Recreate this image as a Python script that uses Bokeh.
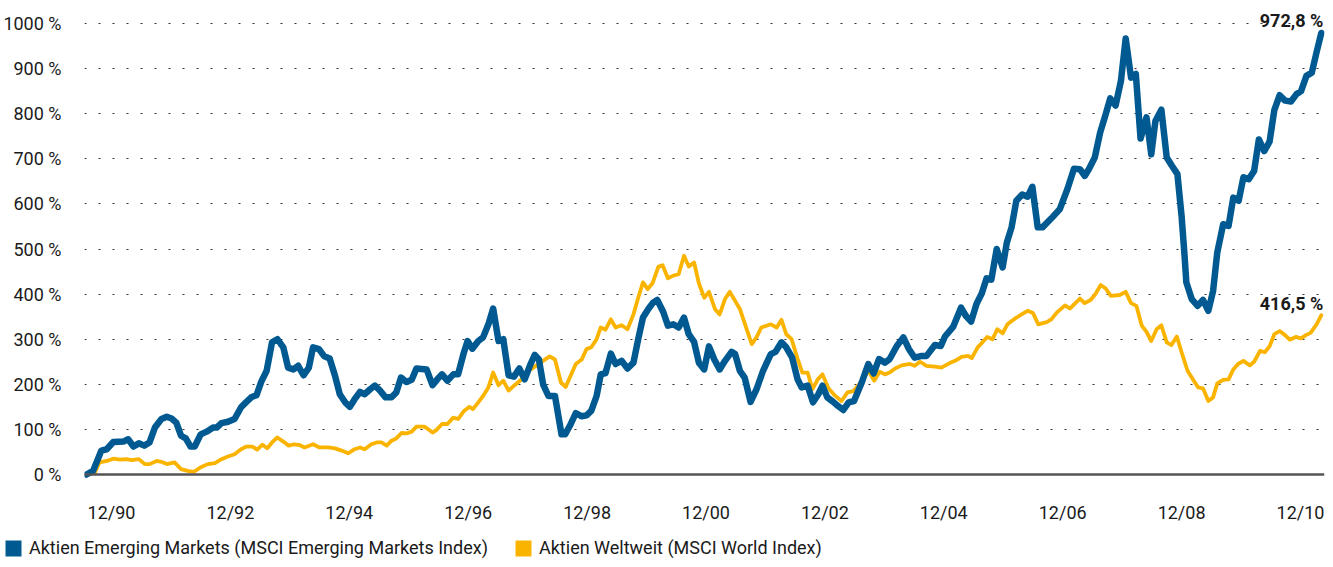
from bokeh.plotting import figure
from bokeh.layouts import column
from bokeh.models import FixedTicker, Span, Legend, LegendItem, Label, Range1d
from bokeh.embed import file_html
from bokeh.resources import INLINE

FONT = "Roboto"

# ---------------- data (decimal years, performance in %) ----------------
em_name = "Aktien Emerging Markets (MSCI Emerging Markets Index)"
world_name = "Aktien Weltweit (MSCI World Index)"

em_years = [1990.50, 1990.61, 1990.75, 1990.84, 1990.95, 1991.12, 1991.20, 1991.29, 1991.38, 1991.47,
            1991.56, 1991.65, 1991.76, 1991.85, 1991.93, 1992.01, 1992.09, 1992.17, 1992.25, 1992.32,
            1992.42, 1992.52, 1992.63, 1992.69, 1992.77, 1992.88, 1992.99, 1993.10, 1993.19, 1993.28,
            1993.36, 1993.44, 1993.53, 1993.62, 1993.71, 1993.81, 1993.89, 1993.98, 1994.06, 1994.15,
            1994.24, 1994.31, 1994.41, 1994.50, 1994.59, 1994.68, 1994.76, 1994.85, 1994.93, 1995.01,
            1995.10, 1995.18, 1995.27, 1995.35, 1995.43, 1995.53, 1995.63, 1995.71, 1995.79, 1995.88,
            1995.97, 1996.05, 1996.22, 1996.32, 1996.40, 1996.48, 1996.57, 1996.67, 1996.75, 1996.84,
            1996.91, 1996.99, 1997.09, 1997.17, 1997.26, 1997.34, 1997.43, 1997.51, 1997.60, 1997.69,
            1997.78, 1997.87, 1997.96, 1998.04, 1998.11, 1998.18, 1998.27, 1998.38, 1998.49, 1998.55,
            1998.63, 1998.73, 1998.83, 1998.91, 1998.99, 1999.08, 1999.15, 1999.23, 1999.32, 1999.40,
            1999.50, 1999.60, 1999.70, 1999.78, 1999.86, 1999.95, 2000.03, 2000.10, 2000.20, 2000.28,
            2000.37, 2000.46, 2000.55, 2000.63, 2000.72, 2000.80, 2000.89, 2000.97, 2001.06, 2001.15,
            2001.24, 2001.35, 2001.41, 2001.49, 2001.57, 2001.67, 2001.77, 2001.88, 2002.01, 2002.09,
            2002.19, 2002.27, 2002.37, 2002.46, 2002.53, 2002.63, 2002.72, 2002.81, 2002.88, 2002.96,
            2003.06, 2003.14, 2003.23, 2003.32, 2003.41, 2003.54, 2003.65, 2003.74, 2003.83, 2003.93,
            2004.01, 2004.13, 2004.24, 2004.33, 2004.43, 2004.55, 2004.63, 2004.77, 2004.87, 2004.94,
            2005.08, 2005.13, 2005.21, 2005.29, 2005.38, 2005.47, 2005.56, 2005.64, 2005.72, 2005.81,
            2005.91, 2005.98, 2006.06, 2006.14, 2006.24, 2006.33, 2006.41, 2006.50, 2006.58, 2006.73,
            2006.87, 2007.00, 2007.11, 2007.21, 2007.29, 2007.36, 2007.46, 2007.55, 2007.64, 2007.72,
            2007.81, 2007.90, 2007.98, 2008.07, 2008.15, 2008.23, 2008.33, 2008.41, 2008.48, 2008.58,
            2008.67, 2008.76, 2008.85, 2008.92, 2008.97, 2009.00, 2009.09, 2009.19, 2009.28, 2009.37,
            2009.45, 2009.52, 2009.62, 2009.71, 2009.79, 2009.88, 2009.96, 2010.05, 2010.14, 2010.22,
            2010.31, 2010.40, 2010.48, 2010.57, 2010.66, 2010.76, 2010.85, 2010.93, 2011.02, 2011.11,
            2011.19, 2011.27]
em_values = [0, 8, 53, 56, 72, 73, 78, 62, 69, 64,
             71, 104, 123, 128, 124, 115, 86, 80, 62, 62,
             89, 95, 104, 104, 114, 117, 123, 149, 161, 172,
             176, 206, 230, 293, 300, 282, 237, 233, 241, 220,
             237, 282, 278, 262, 257, 219, 178, 160, 150, 167,
             183, 178, 189, 197, 187, 171, 171, 182, 215, 205,
             210, 235, 233, 198, 211, 222, 208, 222, 222, 267,
             296, 279, 296, 304, 333, 368, 296, 300, 220, 217,
             235, 211, 242, 265, 255, 200, 174, 174, 89, 89,
             108, 136, 129, 131, 141, 174, 222, 225, 268, 245,
             252, 235, 248, 300, 348, 367, 381, 387, 361, 330,
             333, 326, 348, 311, 294, 248, 233, 284, 255, 233,
             252, 272, 267, 230, 215, 161, 189, 230, 267, 272,
             293, 282, 259, 211, 193, 197, 160, 178, 197, 171,
             161, 152, 143, 160, 163, 204, 245, 224, 256, 248,
             256, 285, 304, 279, 259, 263, 263, 287, 285, 306,
             328, 344, 370, 352, 339, 378, 402, 435, 432, 500,
             459, 514, 548, 607, 621, 616, 638, 548, 548, 568,
             588, 633, 678, 677, 662, 677, 703, 758, 797, 834,
             818, 873, 967, 880, 888, 745, 792, 710, 784, 809,
             703, 684, 666, 573, 485, 426, 389, 374, 387, 363,
             407, 492, 555, 551, 614, 607, 659, 655, 673, 743,
             717, 738, 808, 841, 829, 827, 843, 850, 884, 891,
             936, 979]

world_years = [1990.50, 1990.64, 1990.72, 1990.84, 1990.95, 1991.06, 1991.17, 1991.26, 1991.38, 1991.48,
               1991.56, 1991.68, 1991.76, 1991.85, 1991.98, 1992.09, 1992.20, 1992.31, 1992.42, 1992.54,
               1992.66, 1992.77, 1992.88, 1992.99, 1993.10, 1993.19, 1993.29, 1993.37, 1993.46, 1993.54,
               1993.62, 1993.71, 1993.81, 1993.90, 1994.00, 1994.09, 1994.17, 1994.31, 1994.42, 1994.57,
               1994.68, 1994.79, 1994.90, 1995.01, 1995.10, 1995.18, 1995.29, 1995.38, 1995.46, 1995.55,
               1995.63, 1995.71, 1995.80, 1995.88, 1995.97, 1996.05, 1996.19, 1996.32, 1996.39, 1996.48,
               1996.57, 1996.67, 1996.75, 1996.85, 1996.94, 1997.00, 1997.09, 1997.17, 1997.26, 1997.34,
               1997.43, 1997.51, 1997.60, 1997.70, 1997.80, 1997.96, 1998.18, 1998.29, 1998.38, 1998.48,
               1998.56, 1998.63, 1998.73, 1998.83, 1998.91, 1998.99, 1999.08, 1999.15, 1999.23, 1999.32,
               1999.40, 1999.50, 1999.60, 1999.70, 1999.78, 1999.86, 1999.94, 2000.02, 2000.12, 2000.19,
               2000.28, 2000.37, 2000.46, 2000.55, 2000.63, 2000.72, 2000.80, 2000.89, 2000.97, 2001.07,
               2001.15, 2001.24, 2001.32, 2001.49, 2001.59, 2001.69, 2001.77, 2001.85, 2002.01, 2002.11,
               2002.19, 2002.27, 2002.36, 2002.46, 2002.54, 2002.63, 2002.71, 2002.80, 2002.88, 2002.98,
               2003.08, 2003.20, 2003.30, 2003.40, 2003.51, 2003.65, 2003.75, 2003.84, 2003.93, 2004.01,
               2004.10, 2004.21, 2004.35, 2004.43, 2004.52, 2004.63, 2004.77, 2004.88, 2005.02, 2005.11,
               2005.22, 2005.33, 2005.39, 2005.49, 2005.57, 2005.65, 2005.74, 2005.82, 2005.91, 2005.99,
               2006.12, 2006.23, 2006.33, 2006.42, 2006.51, 2006.65, 2006.73, 2006.82, 2006.96, 2007.04,
               2007.21, 2007.29, 2007.39, 2007.47, 2007.56, 2007.64, 2007.73, 2007.88, 2007.98, 2008.07,
               2008.16, 2008.25, 2008.33, 2008.41, 2008.50, 2008.58, 2008.67, 2008.75, 2008.84, 2008.92,
               2009.02, 2009.11, 2009.20, 2009.28, 2009.37, 2009.45, 2009.52, 2009.62, 2009.71, 2009.79,
               2009.87, 2009.96, 2010.07, 2010.14, 2010.24, 2010.32, 2010.40, 2010.48, 2010.57, 2010.66,
               2010.74, 2010.84, 2010.93, 2011.01, 2011.09, 2011.19, 2011.27]
world_values = [0, 4, 27, 30, 35, 33, 34, 32, 34, 23,
                23, 30, 28, 23, 27, 12, 8, 6, 16, 23,
                25, 34, 40, 45, 56, 62, 62, 55, 66, 58,
                71, 82, 73, 64, 67, 65, 60, 67, 60, 60,
                58, 53, 47, 56, 60, 56, 67, 71, 71, 64,
                75, 80, 92, 91, 95, 106, 106, 93, 99, 112,
                112, 126, 123, 141, 150, 145, 160, 174, 193, 226,
                198, 208, 186, 198, 209, 232, 252, 262, 255, 204,
                194, 215, 245, 255, 278, 282, 300, 326, 321, 344,
                326, 331, 322, 355, 392, 426, 411, 424, 461, 464,
                435, 441, 444, 485, 461, 470, 424, 392, 405, 367,
                355, 389, 405, 367, 328, 289, 304, 326, 333, 326,
                343, 311, 300, 257, 226, 226, 189, 211, 222, 191,
                176, 163, 182, 185, 202, 230, 208, 228, 222, 226,
                235, 242, 245, 241, 250, 241, 239, 237, 247, 252,
                261, 263, 258, 282, 293, 305, 300, 322, 313, 333,
                346, 355, 363, 358, 333, 338, 344, 359, 375, 368,
                390, 380, 387, 400, 420, 413, 396, 398, 405, 380,
                374, 330, 316, 296, 322, 331, 293, 287, 306, 271,
                230, 211, 193, 191, 163, 171, 202, 210, 211, 233,
                245, 252, 242, 250, 274, 271, 284, 311, 318, 309,
                299, 305, 302, 309, 314, 333, 353]

em_end_label = "972,8 %"
world_end_label = "416,5 %"

y_ticks = [0, 100, 200, 300, 400, 500, 600, 700, 800, 900, 1000]
y_tick_labels = [f"{v} %" for v in y_ticks]
x_ticks = [1990.92, 1992.92, 1994.92, 1996.92, 1998.92, 2000.92, 2002.92, 2004.92, 2006.92, 2008.92, 2010.92]
x_tick_labels = ["12/90", "12/92", "12/94", "12/96", "12/98", "12/00", "12/02", "12/04", "12/06", "12/08", "12/10"]

EM_COLOR = "#005a91"
WORLD_COLOR = "#fab400"
TEXT_COLOR = "#1a1a1a"
FS = "18px"
NAN = float("nan")

# ---------------- main chart ----------------
p = figure(frame_width=1240, frame_height=476, output_backend="svg", toolbar_location=None,
           x_range=Range1d(1990.466, 2011.324), y_range=Range1d(-8.9, 1046.6),
           min_border_left=75, min_border_right=2, min_border_top=2, min_border_bottom=40)
p.frame_align = False
p.outline_line_color = None
p.border_fill_color = "white"

p.xgrid.visible = False
p.ygrid.ticker = FixedTicker(ticks=y_ticks[1:])
p.ygrid.grid_line_color = "#333333"
p.ygrid.grid_line_dash = "2 12"
p.ygrid.grid_line_width = 1.2

p.yaxis.ticker = FixedTicker(ticks=y_ticks)
p.yaxis.major_label_overrides = {t: l for t, l in zip(y_ticks, y_tick_labels)}
p.yaxis.axis_line_color = None
p.yaxis.major_tick_line_color = None
p.yaxis.minor_tick_line_color = None
p.yaxis.major_label_standoff = 17
p.yaxis.major_label_text_font = FONT
p.yaxis.major_label_text_font_size = FS
p.yaxis.major_label_text_color = TEXT_COLOR

p.xaxis.ticker = FixedTicker(ticks=x_ticks)
p.xaxis.major_label_overrides = {t: l for t, l in zip(x_ticks, x_tick_labels)}
p.xaxis.axis_line_color = None
p.xaxis.major_tick_line_color = None
p.xaxis.minor_tick_line_color = None
p.xaxis.major_label_standoff = 17
p.xaxis.major_label_text_font = FONT
p.xaxis.major_label_text_font_size = FS
p.xaxis.major_label_text_color = TEXT_COLOR

p.add_layout(Span(location=0, dimension="width", line_color="#555555", line_width=2.5))

p.line(world_years, world_values, line_color=WORLD_COLOR, line_width=3.8, line_join="round", line_cap="round")
p.line(em_years, em_values, line_color=EM_COLOR, line_width=6.5, line_join="round", line_cap="round")

for xs, vs, txt in [(em_years, em_values, em_end_label), (world_years, world_values, world_end_label)]:
    p.add_layout(Label(x=xs[-1], y=vs[-1], text=txt, x_offset=2, y_offset=12,
                       text_align="right", text_baseline="alphabetic",
                       text_font=FONT, text_font_size=FS, text_font_style="bold",
                       text_color=TEXT_COLOR))

# ---------------- legend strip ----------------
lg = figure(width=1317, height=33, output_backend="svg", toolbar_location=None,
            x_range=Range1d(0, 1), y_range=Range1d(0, 1),
            x_axis_location=None, y_axis_location=None,
            min_border_left=0, min_border_right=0, min_border_top=0, min_border_bottom=0)
lg.frame_align = False
lg.outline_line_color = None
lg.xgrid.visible = False
lg.ygrid.visible = False

for name, color, xloc in [(em_name, EM_COLOR, 3), (world_name, WORLD_COLOR, 513)]:
    r = lg.quad(left=[NAN], right=[NAN], top=[NAN], bottom=[NAN], fill_color=color, line_color=None)
    lg.add_layout(Legend(items=[LegendItem(label=name, renderers=[r])],
                         location=(xloc, 0), glyph_width=20, glyph_height=20, label_height=20,
                         label_standoff=6, padding=0, margin=0,
                         border_line_color=None, background_fill_alpha=0,
                         label_text_font=FONT, label_text_font_size=FS, label_text_color=TEXT_COLOR))

open("out.html", "w").write(file_html(column(p, lg, spacing=0), INLINE))
